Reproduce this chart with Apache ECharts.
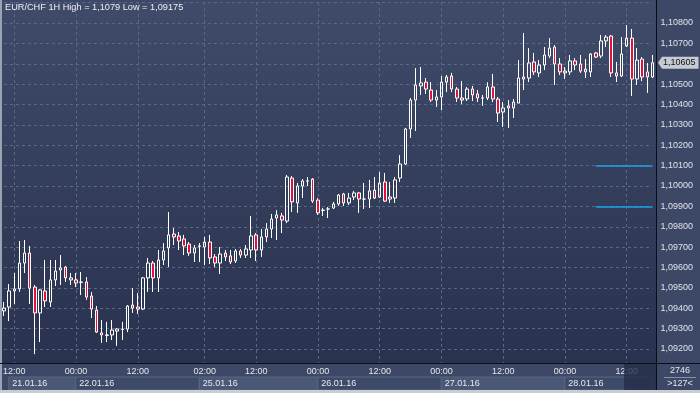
<!DOCTYPE html>
<html><head><meta charset="utf-8">
<style>html,body{margin:0;padding:0;background:#3c4866;}#c{width:700px;height:393px;}</style>
<script src="https://cdn.jsdelivr.net/npm/echarts@6/dist/echarts.min.js"></script>
</head><body><div id="c"></div>
<script>
const chartTitle = 'EUR/CHF 1H High = 1,1079 Low = 1,09175';
const sessionDates = ['21.01.16','22.01.16','25.01.16','26.01.16','27.01.16','28.01.16'];
const sessionFirstHour = [10,0,1,0,0,0];
const sessionLastHour = [23,23,23,23,23,17];
const timeLabelIdx = [2,14,26,39,49,61,73,85,97,109,121];
const dateBoxStartIdx = [1,14,38,61,85,109];
const dateBoxEndIdx = [14,38,61,85,109,126];
const dateBoxShade = [true,false,true,false,true,false];

const opens = [1.09387,1.09406,1.09485,1.09495,1.09622,1.09671,1.09504,1.09377,1.09485,1.09431,
1.09539,1.09588,1.09602,1.09539,1.09539,1.09529,1.09529,1.09460,1.09391,1.09279,
1.09269,1.09269,1.09288,1.09296,1.09298,1.09416,1.09406,1.09396,1.09549,1.09622,
1.09549,1.09637,1.09696,1.09764,1.09755,1.09740,1.09715,1.09671,1.09706,1.09701,
1.09725,1.09652,1.09622,1.09671,1.09657,1.09632,1.09681,1.09661,1.09686,1.09760,
1.09686,1.09750,1.09789,1.09843,1.09853,1.09828,1.10039,1.09917,1.10000,1.10025,
1.10034,1.09931,1.09882,1.09887,1.09892,1.09912,1.09961,1.09917,1.09946,1.09966,
1.09936,1.09936,1.09980,1.09946,1.10020,1.09936,1.09941,1.10039,1.10108,1.10280,
1.10422,1.10491,1.10510,1.10471,1.10422,1.10437,1.10510,1.10540,1.10476,1.10432,
1.10427,1.10476,1.10452,1.10432,1.10432,1.10486,1.10427,1.10363,1.10393,1.10383,
1.10407,1.10535,1.10530,1.10609,1.10555,1.10594,1.10638,1.10682,1.10599,1.10564,
1.10560,1.10614,1.10599,1.10574,1.10560,1.10653,1.10638,1.10712,1.10736,1.10555,
1.10540,1.10687,1.10726,1.10525,1.10623,1.10560,1.10535];
const closes = [1.09401,1.09485,1.09495,1.09622,1.09671,1.09499,1.09377,1.09490,1.09436,1.09539,
1.09583,1.09598,1.09549,1.09549,1.09524,1.09527,1.09455,1.09396,1.09283,1.09269,
1.09267,1.09293,1.09298,1.09298,1.09411,1.09401,1.09396,1.09549,1.09622,1.09549,
1.09637,1.09681,1.09760,1.09750,1.09730,1.09706,1.09671,1.09696,1.09704,1.09725,
1.09647,1.09622,1.09666,1.09652,1.09627,1.09681,1.09661,1.09691,1.09755,1.09686,
1.09750,1.09789,1.09838,1.09858,1.09833,1.10044,1.09922,1.10000,1.10025,1.10024,
1.09926,1.09868,1.09880,1.09887,1.09912,1.09956,1.09917,1.09941,1.09966,1.09936,
1.09936,1.09976,1.09941,1.10015,1.09926,1.09946,1.10030,1.10108,1.10280,1.10422,
1.10496,1.10506,1.10476,1.10422,1.10437,1.10510,1.10535,1.10476,1.10432,1.10422,
1.10476,1.10447,1.10432,1.10432,1.10486,1.10427,1.10358,1.10383,1.10383,1.10412,
1.10530,1.10525,1.10604,1.10560,1.10594,1.10643,1.10677,1.10599,1.10560,1.10555,
1.10614,1.10594,1.10564,1.10560,1.10648,1.10633,1.10712,1.10731,1.10555,1.10540,
1.10648,1.10726,1.10525,1.10618,1.10535,1.10535,1.10605];
const lows = [1.09362,1.09337,1.09421,1.09480,1.09573,1.09421,1.09175,1.09234,1.09406,1.09406,
1.09509,1.09514,1.09529,1.09514,1.09504,1.09465,1.09441,1.09352,1.09279,1.09230,
1.09234,1.09244,1.09215,1.09244,1.09283,1.09377,1.09372,1.09391,1.09480,1.09480,
1.09480,1.09612,1.09602,1.09710,1.09686,1.09661,1.09657,1.09627,1.09627,1.09612,
1.09617,1.09602,1.09568,1.09632,1.09617,1.09622,1.09647,1.09647,1.09647,1.09632,
1.09652,1.09725,1.09745,1.09735,1.09769,1.09818,1.09872,1.09868,1.09941,1.10000,
1.09917,1.09858,1.09853,1.09843,1.09887,1.09902,1.09902,1.09907,1.09931,1.09868,
1.09887,1.09892,1.09936,1.09941,1.09922,1.09917,1.09917,1.10020,1.10103,1.10236,
1.10270,1.10447,1.10452,1.10412,1.10388,1.10373,1.10461,1.10461,1.10412,1.10402,
1.10417,1.10417,1.10412,1.10393,1.10422,1.10412,1.10314,1.10290,1.10285,1.10334,
1.10407,1.10471,1.10510,1.10545,1.10535,1.10569,1.10628,1.10496,1.10545,1.10525,
1.10545,1.10569,1.10555,1.10530,1.10535,1.10628,1.10628,1.10682,1.10535,1.10510,
1.10535,1.10682,1.10442,1.10496,1.10515,1.10457,1.10530];
const highs = [1.09431,1.09519,1.09573,1.09730,1.09735,1.09706,1.09514,1.09495,1.09637,1.09637,
1.09637,1.09661,1.09607,1.09573,1.09573,1.09578,1.09553,1.09480,1.09411,1.09342,
1.09333,1.09342,1.09303,1.09333,1.09416,1.09499,1.09475,1.09553,1.09647,1.09632,
1.09686,1.09720,1.09872,1.09794,1.09774,1.09760,1.09725,1.09710,1.09720,1.09750,
1.09760,1.09666,1.09701,1.09686,1.09686,1.09691,1.09691,1.09710,1.09853,1.09769,
1.09789,1.09818,1.09863,1.09882,1.09868,1.10054,1.10049,1.10015,1.10034,1.10044,
1.10039,1.09941,1.09892,1.09897,1.09922,1.09961,1.09966,1.09966,1.09976,1.09971,
1.10015,1.10030,1.10044,1.10069,1.10064,1.10020,1.10044,1.10152,1.10285,1.10432,
1.10579,1.10584,1.10530,1.10510,1.10471,1.10540,1.10545,1.10555,1.10486,1.10515,
1.10486,1.10491,1.10471,1.10447,1.10510,1.10550,1.10437,1.10412,1.10422,1.10427,
1.10618,1.10751,1.10677,1.10653,1.10618,1.10682,1.10726,1.10692,1.10628,1.10584,
1.10643,1.10628,1.10643,1.10623,1.10653,1.10658,1.10741,1.10741,1.10741,1.10609,
1.10731,1.10790,1.10771,1.10677,1.10633,1.10604,1.10643];

const lastPrice = 1.10605;
const levelLines = [1.1010, 1.0990];
const levelStartIdx = 115;
const yMin = 1.091313, yMax = 1.109031;
const barCountText = '2746';
const barsBackText = '>127<';

const categories = [];
sessionDates.forEach((d, i) => {
  for (let h = sessionFirstHour[i]; h <= sessionLastHour[i]; h++) {
    categories.push(d + ' ' + String(h).padStart(2, '0') + ':00');
  }
});
const candleData = opens.map((o, i) => [o, closes[i], lows[i], highs[i]]);
const timeLabelSet = new Set(timeLabelIdx);
const FONT = 'Liberation Sans, Arial, sans-serif';
const fmtPrice = v => v.toFixed(5).replace('.', ',');

const chart = echarts.init(document.getElementById('c'), null, {renderer: 'canvas'});
const lastIdx = categories.length - 1;
const levelStyle = {color: '#18a4ea', width: 1.5, type: 'solid', opacity: 1};

const option = {
  backgroundColor: '#3c4866',
  animation: false,
  title: {
    text: chartTitle, left: 5, top: 3, padding: 0,
    textStyle: {color: '#eef0f4', fontSize: 9.2, fontWeight: 'normal', fontFamily: FONT}
  },
  grid: [
    {left: 3.6, right: 47.6, top: 2, height: 361},
    {left: 3.6, right: 47.6, top: 377, height: 13}
  ],
  xAxis: [
    {
      type: 'category', gridIndex: 0, data: categories, boundaryGap: false,
      axisLine: {show: false}, axisTick: {show: false},
      axisLabel: {
        interval: (i) => timeLabelSet.has(i),
        formatter: v => v.split(' ')[1],
        color: '#e3e7ee', fontSize: 9, margin: 4, fontFamily: FONT
      },
      splitLine: {show: true, interval: (i) => timeLabelSet.has(i),
        lineStyle: {color: '#5a6888', type: [3, 3], width: 1}}
    },
    {type: 'category', gridIndex: 1, data: categories, boundaryGap: false, show: false}
  ],
  yAxis: [
    {
      type: 'value', gridIndex: 0, position: 'right', min: yMin, max: yMax, splitNumber: 17,
      axisLine: {show: false}, axisTick: {show: false},
      axisLabel: {
        formatter: v => {
          const k = v * 1000;
          if (Math.abs(k - Math.round(k)) > 1e-6 || v > 1.1085) return '';
          return fmtPrice(v);
        },
        color: '#dfe3ea', fontSize: 9, margin: 8, align: 'left', fontFamily: FONT
      },
      splitLine: {show: true, lineStyle: {color: '#5a6888', type: [3, 3], width: 1}}
    },
    {type: 'value', gridIndex: 1, min: 0, max: 1, show: false}
  ],
  series: [
    {
      type: 'candlestick', xAxisIndex: 0, yAxisIndex: 0, data: candleData,
      barWidth: 3, clip: false, z: 3,
      itemStyle: {
        color: 'rgba(0,0,0,0)', color0: '#e0123a',
        borderColor: '#ffffff', borderColor0: '#ffffff', borderWidth: 1
      },
      markLine: {
        silent: true, symbol: ['none', 'none'], animation: false,
        lineStyle: levelStyle,
        label: {show: false},
        data: [
          [{coord: [categories[levelStartIdx], levelLines[0]], lineStyle: levelStyle}, {coord: [categories[lastIdx], levelLines[0]]}],
          [{coord: [categories[levelStartIdx], levelLines[1]], lineStyle: levelStyle}, {coord: [categories[lastIdx], levelLines[1]]}]
        ]
      }
    },
    {
      type: 'line', xAxisIndex: 1, yAxisIndex: 1, data: [], silent: true,
      markArea: {
        silent: true,
        label: {show: true, position: 'insideLeft', color: '#e6e9ef', fontSize: 9, distance: 4, fontFamily: FONT},
        data: sessionDates.map((d, i) => [
          {xAxis: categories[dateBoxStartIdx[i]], name: d,
            itemStyle: {color: dateBoxShade[i] ? '#4b5875' : '#3e4b68', borderColor: '#5a6782', borderWidth: 1}},
          {xAxis: categories[dateBoxEndIdx[i]]}
        ])
      }
    }
  ]
};
chart.setOption(option);

const c121 = chart.convertToPixel({xAxisIndex: 0}, categories[timeLabelIdx[timeLabelIdx.length - 1]]);
const c122 = chart.convertToPixel({xAxisIndex: 0}, categories[timeLabelIdx[timeLabelIdx.length - 1] + 1]);
const half = (c122 - c121) / 2;
const yLast = chart.convertToPixel({yAxisIndex: 0}, lastPrice);

chart.setOption({
  graphic: [
    {type: 'rect', id: 'plotbg', z: -10, silent: true, shape: {x: 2, y: 2, width: 654, height: 361},
      style: {fill: new echarts.graphic.LinearGradient(0, 0, 0, 1, [{offset: 0, color: '#3f4b69'}, {offset: 1, color: '#29324f'}])}},
    {type: 'rect', id: 'lb', z: 50, silent: true, shape: {x: 0, y: 0, width: 2, height: 393}, style: {fill: '#9aa3b4'}},
    {type: 'rect', id: 'bb', z: 50, silent: true, shape: {x: 0, y: 390, width: 700, height: 3}, style: {fill: '#c9cdd4'}},
    {type: 'line', id: 'hl', z: 50, silent: true, shape: {x1: 0, y1: 363.5, x2: 700, y2: 363.5}, style: {stroke: '#0a0e16', lineWidth: 1}},
    {type: 'line', id: 'vl', z: 50, silent: true, shape: {x1: 656.5, y1: 0, x2: 656.5, y2: 390}, style: {stroke: '#0a0e16', lineWidth: 1}},
    {type: 'polygon', id: 'arrow', z: 50, silent: true,
      shape: {points: [[658, yLast], [662, yLast - 6], [662, yLast + 6]]}, style: {fill: '#c6cad2'}},
    {type: 'text', id: 'price', z: 51, silent: true, x: 662, y: yLast,
      style: {text: fmtPrice(lastPrice), fill: '#111111', font: '9px ' + FONT,
        backgroundColor: '#c6cad2', padding: [2, 3, 1, 1], textAlign: 'left', textVerticalAlign: 'middle'}},
    {type: 'rect', id: 'dark', z: 40, silent: true, shape: {x: c121 - half, y: 364, width: 656 - (c121 - half), height: 26},
      style: {fill: 'rgba(36,45,72,0.78)'}},
    {type: 'text', id: 't1', z: 50, silent: true, x: 680, y: 371,
      style: {text: barCountText, fill: '#e3e7ee', font: '9px ' + FONT, textAlign: 'center', textVerticalAlign: 'middle'}},
    {type: 'line', id: 'sep', z: 50, silent: true, shape: {x1: 664, y1: 377.5, x2: 696, y2: 377.5}, style: {stroke: '#8791a6', lineWidth: 1}},
    {type: 'text', id: 't2', z: 50, silent: true, x: 680, y: 384,
      style: {text: barsBackText, fill: '#e3e7ee', font: '9px ' + FONT, textAlign: 'center', textVerticalAlign: 'middle'}}
  ]
});
</script>
</body></html>
